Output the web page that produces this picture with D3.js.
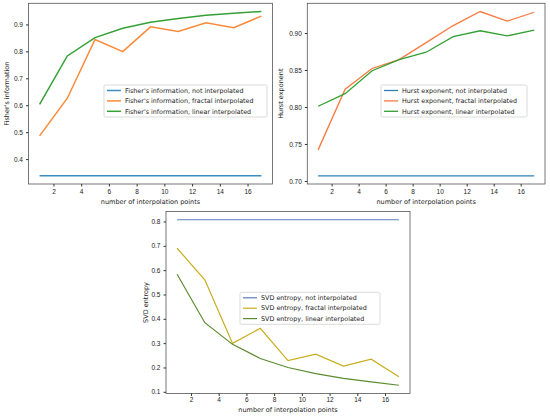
<!DOCTYPE html>
<html>
<head>
  <meta charset="utf-8">
  <title>Interpolation comparison</title>
  <script src="https://cdn.jsdelivr.net/npm/d3@7"></script>
  <style>
    body { margin: 0; background: #fff; }
    svg { display: block; font-family: "DejaVu Sans", sans-serif; }
    .tick text { font-size: 6.5px; fill: #222; }
    .tick line { stroke: #333; }
    .axis-label { font-size: 6.5px; fill: #222; }
    .legend text { font-size: 6.4px; fill: #222; }
  </style>
</head>
<body>
<svg id="chart" width="550" height="416"></svg>
<script>
  // number of interpolation points
  const points = [1, 3, 5, 7, 9, 11, 13, 15, 17];
  const xTicks = [2, 4, 6, 8, 10, 12, 14, 16];

  // Fisher's information
  const fisherNot = [0.338, 0.338, 0.338, 0.338, 0.338, 0.338, 0.338, 0.338, 0.338];
  const fisherFractal = [0.486, 0.626, 0.844, 0.799, 0.891, 0.874, 0.906, 0.888, 0.931];
  const fisherLinear = [0.603, 0.783, 0.851, 0.886, 0.908, 0.922, 0.934, 0.942, 0.948];
  const fisherTicks = [0.4, 0.5, 0.6, 0.7, 0.8, 0.9];

  // Hurst exponent
  const hurstNot = [0.707, 0.707, 0.707, 0.707, 0.707, 0.707, 0.707, 0.707, 0.707];
  const hurstFractal = [0.742, 0.824, 0.852, 0.864, 0.887, 0.910, 0.929, 0.916, 0.928];
  const hurstLinear = [0.801, 0.818, 0.849, 0.864, 0.874, 0.895, 0.903, 0.896, 0.904];
  const hurstTicks = [0.70, 0.75, 0.80, 0.85, 0.90];

  // SVD entropy
  const svdNot = [0.807, 0.807, 0.807, 0.807, 0.807, 0.807, 0.807, 0.807, 0.807];
  const svdFractal = [0.690, 0.560, 0.299, 0.361, 0.228, 0.255, 0.206, 0.234, 0.162];
  const svdLinear = [0.583, 0.384, 0.295, 0.237, 0.200, 0.175, 0.155, 0.141, 0.127];
  const svdTicks = [0.1, 0.2, 0.3, 0.4, 0.5, 0.6, 0.7, 0.8];

  const svg = d3.select('#chart');

  function drawPanel(p) {
    const g = svg.append('g');

    // matplotlib style 5% margins
    const xExt = d3.extent(points), xPad = (xExt[1] - xExt[0]) * 0.05;
    const all = p.series.flatMap(s => s.values);
    const yExt = d3.extent(all), yPad = (yExt[1] - yExt[0]) * 0.05;

    const x = d3.scaleLinear()
      .domain([xExt[0] - xPad, xExt[1] + xPad])
      .range([p.left, p.right]);
    const y = d3.scaleLinear()
      .domain([yExt[0] - yPad, yExt[1] + yPad])
      .range([p.bottom, p.top]);

    const line = d3.line()
      .x((d, i) => x(points[i]))
      .y(d => y(d));

    p.series.forEach(s => {
      g.append('path')
        .attr('d', line(s.values))
        .attr('fill', 'none')
        .attr('stroke', s.color)
        .attr('stroke-width', p.lw);
    });

    // frame
    g.append('rect')
      .attr('x', p.left).attr('y', p.top)
      .attr('width', p.right - p.left).attr('height', p.bottom - p.top)
      .attr('fill', 'none').attr('stroke', '#555').attr('stroke-width', 0.8);

    const xAxis = g.append('g')
      .attr('transform', `translate(0, ${p.bottom})`)
      .call(d3.axisBottom(x).tickValues(xTicks).tickSize(2.5).tickPadding(p.xPad).tickFormat(d3.format('d')));
    xAxis.select('.domain').remove();

    const yAxis = g.append('g')
      .attr('transform', `translate(${p.left}, 0)`)
      .call(d3.axisLeft(y).tickValues(p.yTicks).tickSize(2.5).tickPadding(3).tickFormat(d3.format(p.yFormat)));
    yAxis.select('.domain').remove();

    g.append('text')
      .attr('class', 'axis-label')
      .attr('x', (p.left + p.right) / 2)
      .attr('y', p.bottom + p.xlabelDy)
      .attr('text-anchor', 'middle')
      .text('number of interpolation points');

    g.append('text')
      .attr('class', 'axis-label')
      .attr('transform', `translate(${p.ylabelX}, ${(p.top + p.bottom) / 2}) rotate(-90)`)
      .attr('text-anchor', 'middle')
      .attr('dy', '0.35em')
      .text(p.ylabel);

    // legend
    const lg = g.append('g').attr('class', 'legend')
      .attr('transform', `translate(${p.legend[0]}, ${p.legend[1]})`);
    lg.append('rect')
      .attr('width', p.legendW).attr('height', 32)
      .attr('rx', 1.5)
      .attr('fill', '#fff').attr('fill-opacity', 0.85)
      .attr('stroke', '#ccc').attr('stroke-width', 0.7);
    p.series.forEach((s, i) => {
      const yy = 5.5 + i * 10.4;
      lg.append('line')
        .attr('x1', 3).attr('x2', 17)
        .attr('y1', yy).attr('y2', yy)
        .attr('stroke', s.color).attr('stroke-width', p.lw);
      lg.append('text')
        .attr('x', 21).attr('y', yy)
        .attr('dy', '0.35em')
        .text(s.label);
    });
  }

  drawPanel({
    left: 28.5, right: 272.5, top: 3.3, bottom: 184,
    ylabel: "Fisher's information", ylabelX: 6.5,
    yTicks: fisherTicks, yFormat: '.1f', lw: 1.5,
    xPad: 3, xlabelDy: 20,
    legend: [104, 85], legendW: 163,
    series: [
      { values: fisherNot, color: '#3b8dc0', label: "Fisher's information, not interpolated" },
      { values: fisherFractal, color: '#fb8a38', label: "Fisher's information, fractal interpolated" },
      { values: fisherLinear, color: '#35a035', label: "Fisher's information, linear interpolated" }
    ]
  });

  drawPanel({
    left: 307.3, right: 545, top: 3.3, bottom: 184,
    ylabel: 'Hurst exponent', ylabelX: 281,
    yTicks: hurstTicks, yFormat: '.2f', lw: 1.3,
    xPad: 3, xlabelDy: 20,
    legend: [381, 85], legendW: 146,
    series: [
      { values: hurstNot, color: '#2a82b8', label: 'Hurst exponent, not interpolated' },
      { values: hurstFractal, color: '#f7793f', label: 'Hurst exponent, fractal interpolated' },
      { values: hurstLinear, color: '#33a033', label: 'Hurst exponent, linear interpolated' }
    ]
  });

  drawPanel({
    left: 166, right: 410, top: 211.5, bottom: 393.5,
    ylabel: 'SVD entropy', ylabelX: 146,
    yTicks: svdTicks, yFormat: '.1f', lw: 1.2,
    xPad: 1.5, xlabelDy: 18,
    legend: [240, 292.3], legendW: 140,
    series: [
      { values: svdNot, color: '#5a7dbd', label: 'SVD entropy, not interpolated' },
      { values: svdFractal, color: '#c9ad1e', label: 'SVD entropy, fractal interpolated' },
      { values: svdLinear, color: '#5b8c2f', label: 'SVD entropy, linear interpolated' }
    ]
  });
</script>
</body>
</html>
